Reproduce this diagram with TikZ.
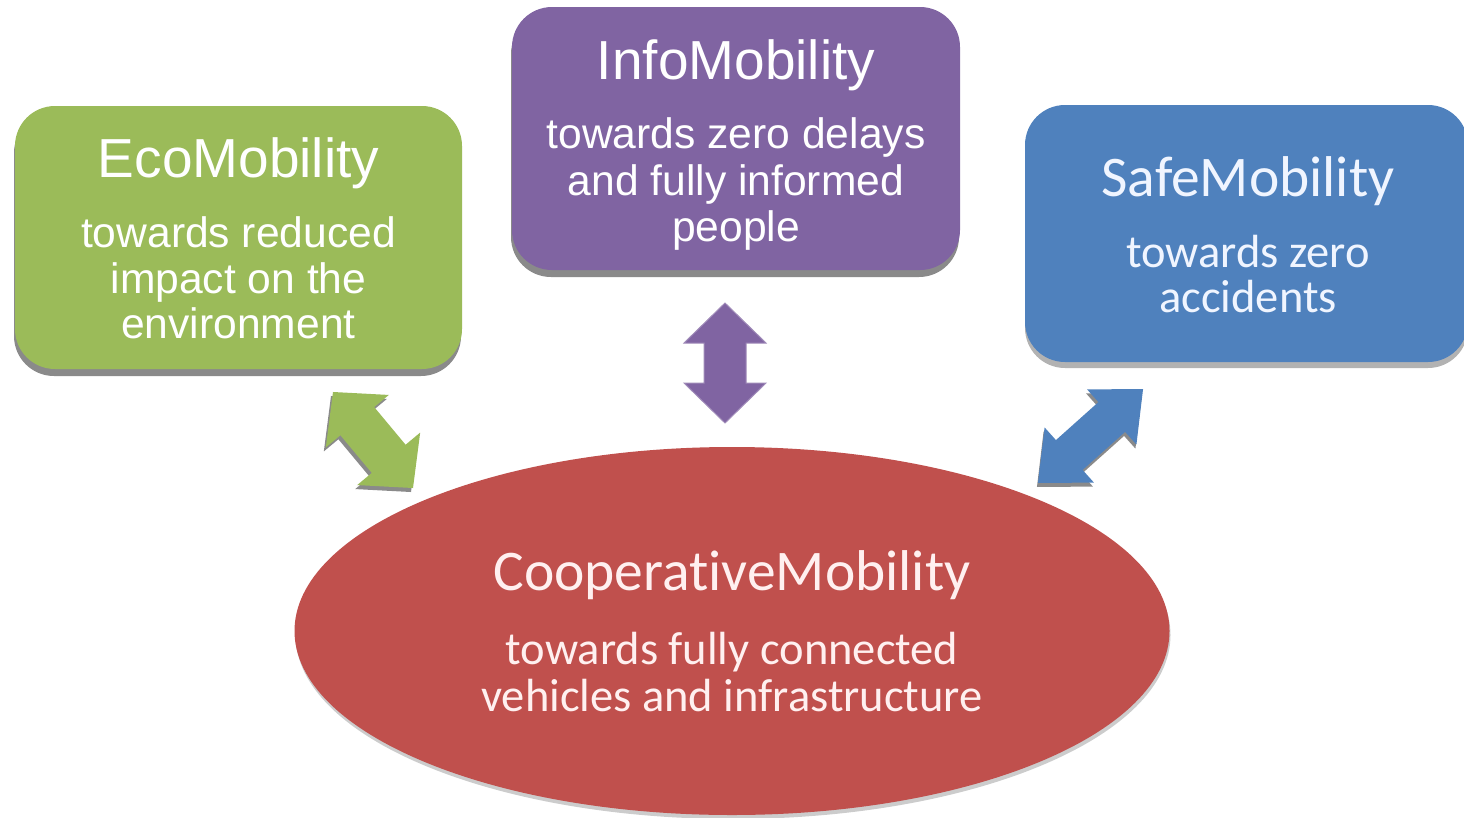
\documentclass[tikz,border=0pt]{standalone}
\usepackage{fontspec}
\setmainfont{Liberation Sans}
\newfontfamily\corbfont[Ligatures=NoCommon]{Carlito}
\usetikzlibrary{shapes.geometric,shadows}
\definecolor{ecogreen}{HTML}{9BBB59}
\definecolor{infopurple}{HTML}{8064A2}
\definecolor{safeblue}{HTML}{4F81BD}
\definecolor{coopred}{HTML}{C0504D}
\definecolor{shadowgray}{HTML}{8A8A8A}
\definecolor{pinkwhite}{rgb}{1,0.94,0.94}
\definecolor{bluewhite}{rgb}{0.94,0.96,1}
\tikzset{
  box/.style={rectangle, rounded corners=40pt, inner sep=0pt},
  hardshadow/.style={drop shadow={shadow xshift=-1pt, shadow yshift=-7pt, fill=shadowgray, opacity=1}},
  ttlA/.style={anchor=base, inner sep=0pt, text=white, font=\fontsize{55}{60}\selectfont},
  bodyA/.style={anchor=base, inner sep=0pt, text=white, font=\fontsize{42.6}{46}\selectfont},
  ttlB/.style={anchor=base, inner sep=0pt, font=\corbfont\fontsize{57.5}{62}\selectfont},
  bodyB/.style={anchor=base, inner sep=0pt, font=\corbfont\fontsize{46.5}{50}\selectfont},
  pics/dblarrow/.style n args={4}{code={
    \path[pic actions] (-#1,0) -- (-#1+#2,#3) -- (-#1+#2,#4) -- (#1-#2,#4) -- (#1-#2,#3)
      -- (#1,0) -- (#1-#2,-#3) -- (#1-#2,-#4) -- (-#1+#2,-#4) -- (-#1+#2,-#3) -- cycle;
  }}
}
\begin{document}
\begin{tikzpicture}[x=1pt,y=-1pt]
\useasboundingbox (0,0) rectangle (1464,817);
\clip (0,0) rectangle (1464,817);

% boxes
\node[box, fill=ecogreen, hardshadow, minimum width=447pt, minimum height=263pt] (eco) at (238.5,237.5) {};
\node[box, fill=infopurple, hardshadow, minimum width=448pt, minimum height=263pt] (info) at (736,138.5) {};
\node[box, fill=safeblue, drop shadow={shadow xshift=0pt, shadow yshift=-6pt, fill=black, opacity=0.3},
      minimum width=443pt, minimum height=257pt] (safe) at (1246.5,233.5) {};
\node[ellipse, inner sep=0pt, fill=coopred, drop shadow={shadow xshift=1pt, shadow yshift=-4pt, fill=black, opacity=0.2},
      minimum width=875pt, minimum height=368pt] (coop) at (732,631) {};

% texts
\node[ttlA] (ecoT) at (238.5,177) {EcoMobility};
\node[bodyA] (ecoL1) at (238.5,247) {towards reduced};
\node[bodyA] (ecoL2) at (238.5,293) {impact on the};
\node[bodyA] (ecoL3) at (238.5,338) {environment};

\node[ttlA] (infoT) at (736,79) {InfoMobility};
\node[bodyA] (infoL1) at (736,148) {towards zero delays};
\node[bodyA] (infoL2) at (736,195) {and fully informed};
\node[bodyA] (infoL3) at (736,241) {people};

\node[ttlB, text=bluewhite] (safeT) at (1248,196) {SafeMobility};
\node[bodyB, text=bluewhite] (safeL1) at (1248,267) {towards zero};
\node[bodyB, text=bluewhite] (safeL2) at (1248,312) {accidents};

\node[ttlB, text=pinkwhite] (coopT) at (732,590) {CooperativeMobility};
\node[bodyB, text=pinkwhite] (coopL1) at (732,664) {towards fully connected};
\node[bodyB, text=pinkwhite] (coopL2) at (732,711) {vehicles and infrastructure};

% block arrows
\pic[rotate=-50.2, fill=shadowgray] at (371,444) {dblarrow={62.5}{38}{41}{22}};
\pic[rotate=-50.2, fill=ecogreen] (ecoarrow) at (373,440) {dblarrow={62.5}{38}{41}{22}};

\pic[rotate=90, fill=infopurple, draw=infopurple!75!white, line width=1pt] (infoarrow) at (725,363) {dblarrow={60}{40}{41}{21}};

\pic[rotate=41.8, fill=shadowgray] at (1089.5,440) {dblarrow={70.5}{42}{37}{20}};
\pic[rotate=41.8, fill=safeblue] (safearrow) at (1090.5,436) {dblarrow={70.5}{42}{37}{20}};
\end{tikzpicture}
\end{document}
